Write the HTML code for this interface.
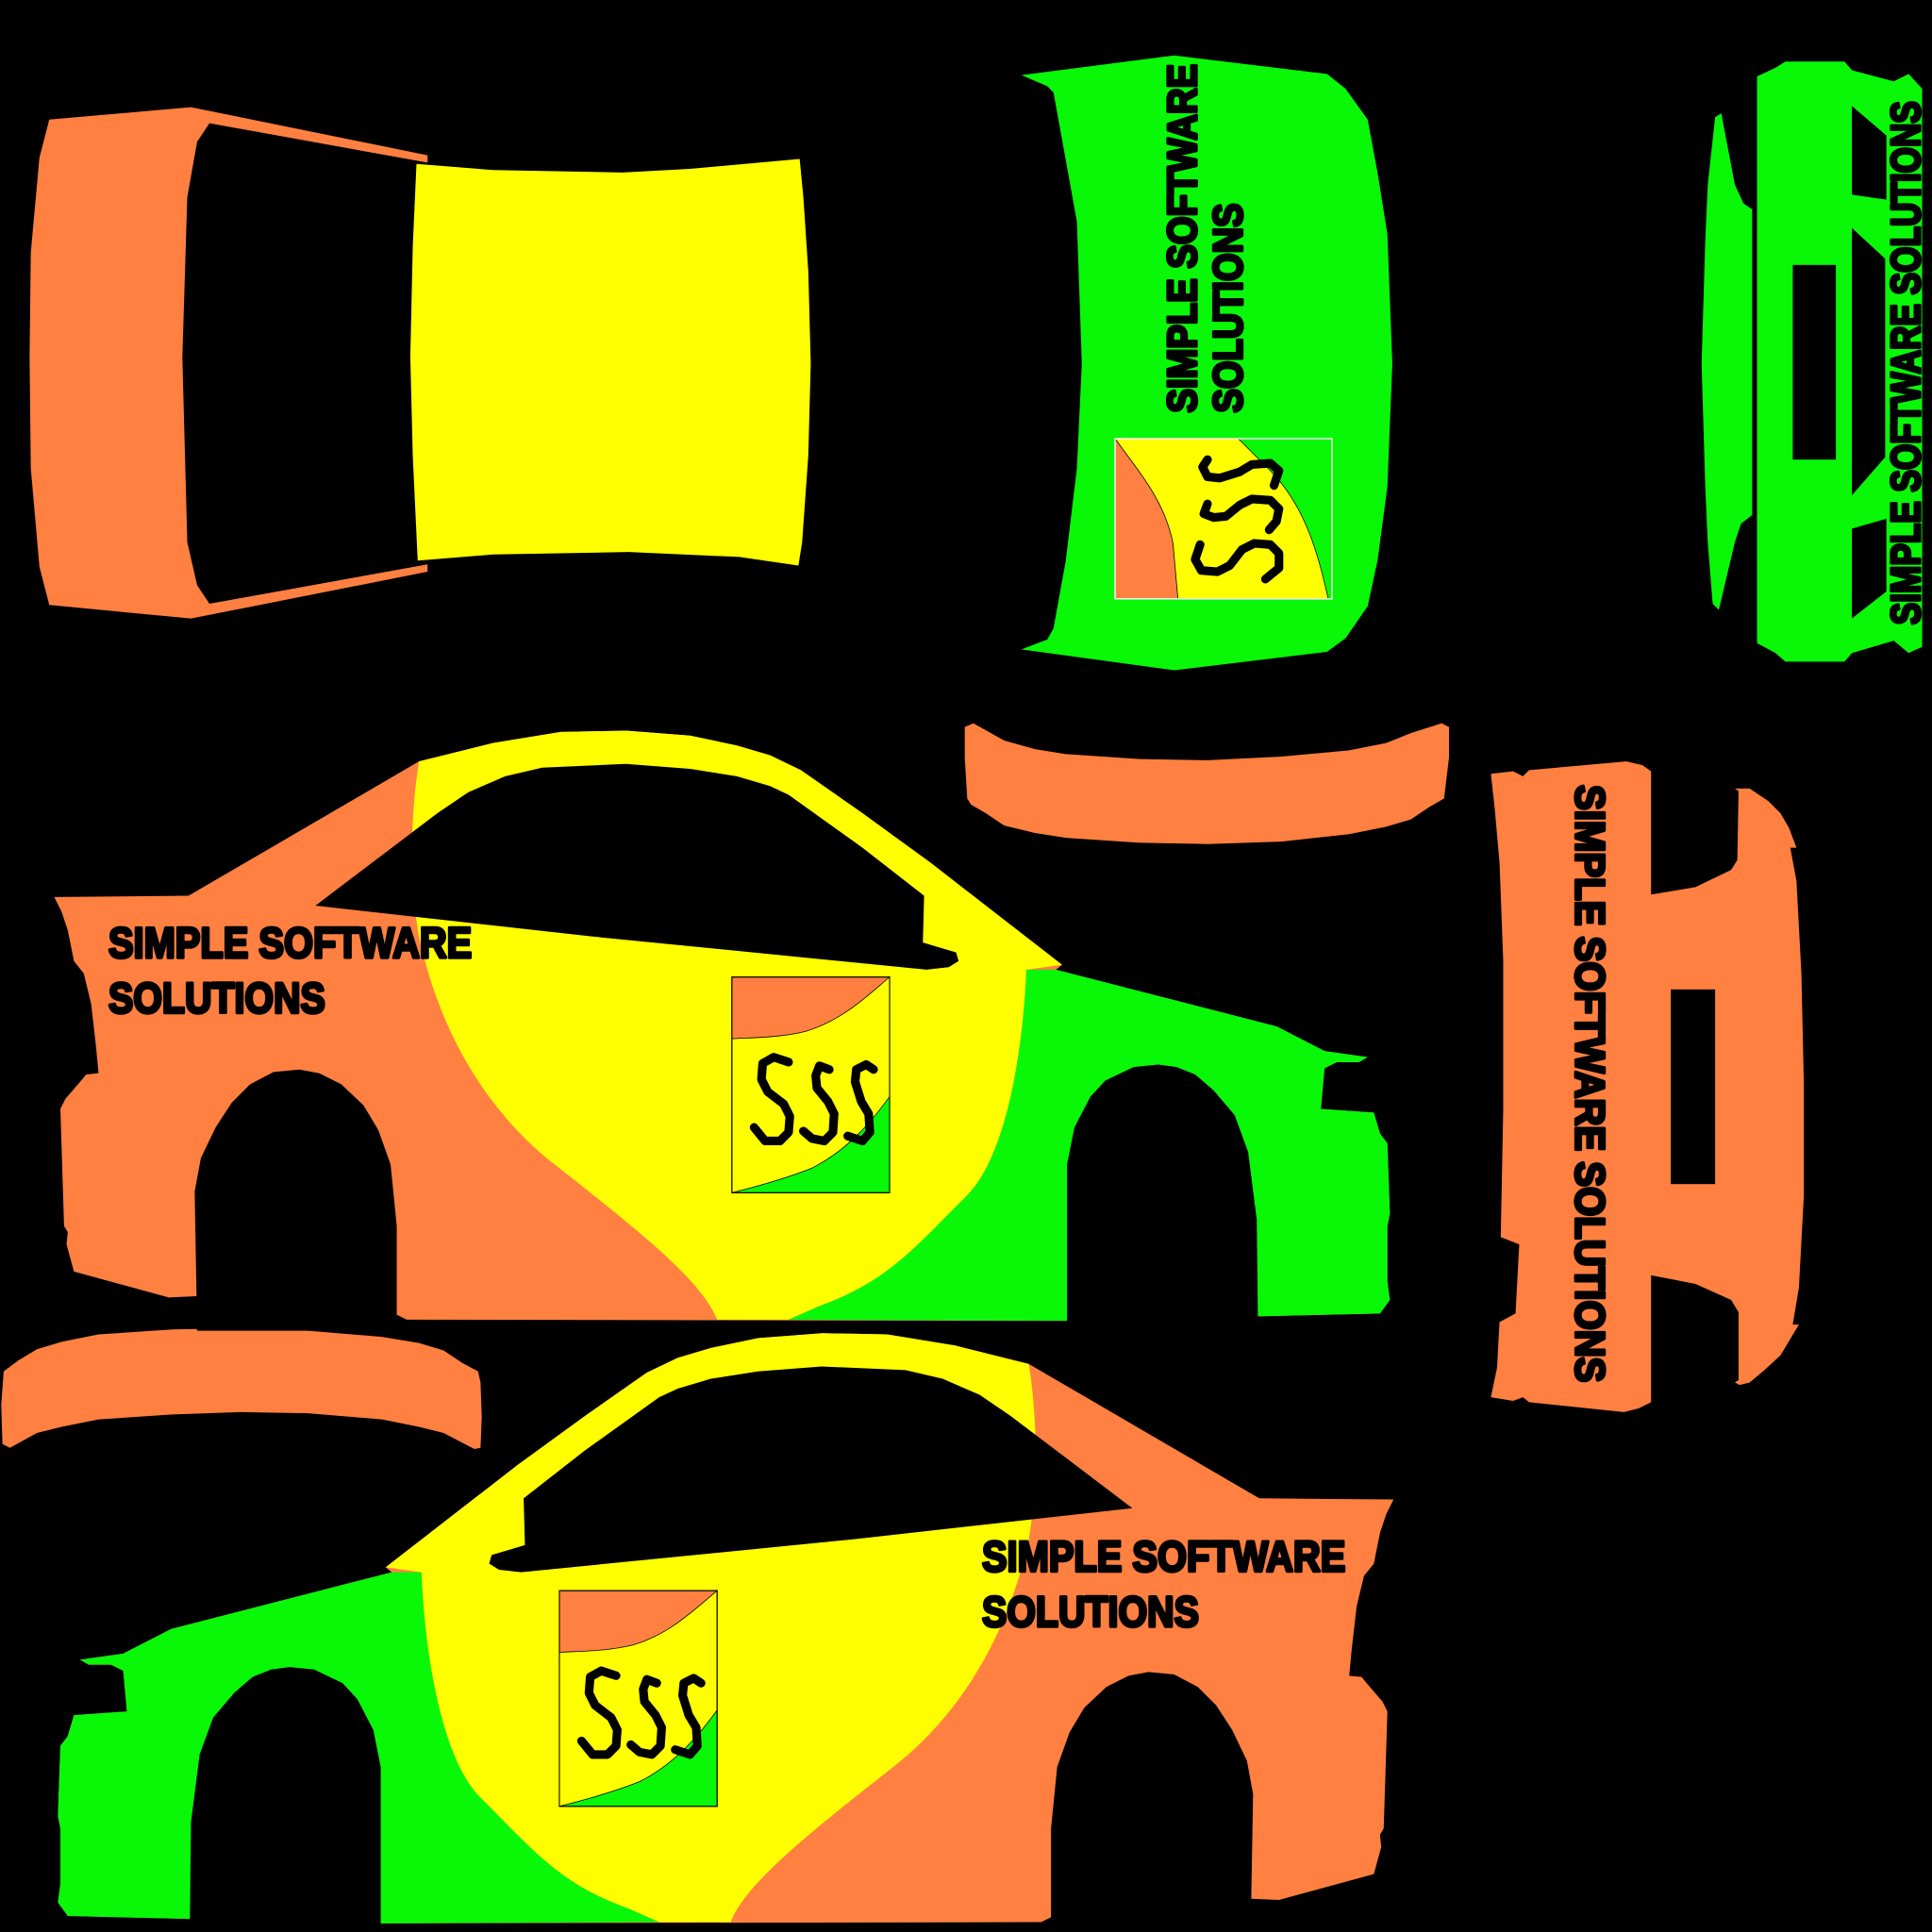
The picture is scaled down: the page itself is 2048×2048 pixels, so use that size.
<!DOCTYPE html>
<html><head><meta charset="utf-8"><style>
html,body{margin:0;padding:0;background:#000;}
svg{display:block;}
.t{font-family:"Liberation Sans",sans-serif;font-weight:bold;fill:#000;stroke:#000;stroke-width:2.6;stroke-linejoin:round;}
</style></head><body>
<svg width="2048" height="2048" viewBox="0 0 1568 1568" xmlns="http://www.w3.org/2000/svg">
<defs>
<g id="ss" fill="none" stroke="#000" stroke-width="7" stroke-linecap="round" stroke-linejoin="round">
<polyline points="46,69 34,65 25,70 24,83 29,93 42,103 47,113 46,126 39,133 27,133 18,122"/>
<polyline points="79,75 71,72 68,80 69,90 78,101 83,111 82,126 75,133 65,131 58,125"/>
<polyline points="115,75 109,71 101,75 100,85 105,101 111,111 112,126 106,133 94,129"/>
</g>
<g id="logo">
<rect x="0" y="0" width="128" height="175" fill="#FFFF00" stroke="#000" stroke-width="0.8"/>
<path d="M0,0 L128,0 C110,15 90,35 60,44 C40,49 20,49 0,50 Z" fill="#FF8040" stroke="#000" stroke-width="0.6"/>
<path d="M128,97 C115,115 95,140 65,155 C45,163 20,170 0,175 L128,175 Z" fill="#08F808" stroke="#000" stroke-width="0.6"/>
<rect x="0" y="0" width="128" height="175" fill="none" stroke="#000" stroke-width="0.8"/>
<use href="#ss"/>
</g>
<g id="side">
<polygon fill="#FF8040" points="44,728 153,727 340,618 400,603 455,594 508,593 560,597 598,605 625,613 650,625 700,660 755,700 862,783 857,787 1036,833 1075,853 1110,858 1103,862 1085,862 1075,867 1072,900 1115,903 1120,920 1126,928 1128,985 1126,995 1126,1040 1128,1055 1120,1066 866,1072 330,1071 322,1067 160,1052 137,1053 60,1032 54,1010 55,1000 52,995 49,900 53,892 65,878 70,872 80,871 78,850 74,815 68,790 60,780 55,755 50,740"/>
<path fill="#FFFF00" d="M340,618 L400,603 455,594 508,593 560,597 598,605 625,613 650,625 700,660 755,700 862,783 833,787 C830,860 815,940 785,970 C740,1015 720,1040 665,1060 L640,1071 582,1071 C570,1040 520,1000 450,945 C390,898 355,830 340,760 C333,720 332,670 340,618 Z"/>
<path fill="#08F808" d="M833,787 L857,787 1036,833 1075,853 1110,858 1103,862 1085,862 1075,867 1072,900 1115,903 1120,920 1126,928 1128,985 1126,995 1126,1040 1128,1055 1120,1066 866,1072 640,1071 665,1060 C720,1040 740,1015 785,970 C815,940 830,860 833,787 Z"/>
<polygon fill="#000" points="256,735 355,660 380,643 410,630 440,623 508,620 560,624 598,630 625,638 640,645 700,688 750,727 749,765 776,773 778,780 770,785 752,787 480,760"/>
<polygon fill="#000" points="160,1080 158,967 163,940 175,915 188,895 203,880 222,870 243,868 259,871 277,880 295,897 307,917 317,945 322,995 322,1080"/>
<polygon fill="#000" points="866,1080 866,945 872,915 885,890 897,877 920,866 940,864 955,866 970,872 985,885 1002,905 1013,935 1020,990 1021,1080"/>
</g>
</defs>
<rect width="1568" height="1568" fill="#000"/>
<!-- roof -->
<polygon fill="#FF8040" points="40,97 155,87 347,126 347,132 170,100 160,115 152,160 148,290 152,440 160,475 170,490 347,458 347,464 155,502 40,491 32,460 25,380 24,290 25,205 32,128"/>
<polygon fill="#FFFF00" points="338,133 400,138 505,140 560,137 649,129 652,160 656,220 658,295 656,370 651,440 648,459 600,452 510,448 400,450 339,455 335,370 333,290 335,200"/>
<!-- hood -->
<polygon fill="#08F808" points="829,61 953,45 1077,60 1092,72 1110,97 1118,140 1126,190 1130,295 1126,395 1118,455 1110,492 1092,518 1077,529 953,544 829,527 850,519 855,510 865,455 874,380 878,295 874,180 865,130 855,75 850,70"/>
<g transform="translate(905,356)">
<rect x="0" y="0" width="176" height="130" fill="#FFFF00" stroke="#fff" stroke-width="1"/>
<path d="M0,0 C20,28 40,50 47,85 L51,130 L0,130 Z" fill="#FF8040" stroke="#000" stroke-width="0.6"/>
<path d="M100,0 L176,0 L176,130 L173,130 C165,95 155,55 125,25 Z" fill="#08F808" stroke="#000" stroke-width="0.6"/>
<rect x="0" y="0" width="176" height="130" fill="none" stroke="#fff" stroke-width="1"/>
<use href="#ss" transform="translate(0,132) rotate(-90)"/>
</g>
<text class="t" font-size="33" textLength="283" lengthAdjust="spacingAndGlyphs" transform="translate(971,335) rotate(-90)">SIMPLE SOFTWARE</text>
<text class="t" font-size="33" textLength="170" lengthAdjust="spacingAndGlyphs" transform="translate(1008,335) rotate(-90)">SOLUTIONS</text>
<!-- back -->
<polygon fill="#08F808" points="1426,62 1441,55 1449,50 1497,50 1503,57 1537,66 1549,60 1560,72 1560,525 1549,530 1537,520 1503,530 1497,537 1449,537 1441,530 1426,522"/>
<polygon fill="#000" points="1503,86 1531,110 1531,162 1503,158"/>
<polygon fill="#000" points="1503,185 1530,210 1530,371 1503,402"/>
<polygon fill="#000" points="1503,429 1531,421 1531,480 1503,502"/>
<rect x="1455" y="215" width="35" height="158" fill="#000"/>
<polygon fill="#08F808" points="1392,95 1397,92 1408,150 1415,165 1422,170 1422,418 1413,425 1408,440 1395,495 1390,490 1386,440 1384,395 1381,295 1384,195 1386,150"/>
<text class="t" font-size="33" textLength="425" lengthAdjust="spacingAndGlyphs" transform="translate(1558,507) rotate(-90)">SIMPLE SOFTWARE SOLUTIONS</text>
<!-- spoilers -->
<polygon fill="#FF8040" points="783,590 790,587 815,601 840,608 865,612 925,616 980,617 1040,614 1095,609 1125,603 1145,595 1170,587 1176,590 1176,615 1172,648 1160,655 1145,665 1125,671 1095,677 1040,683 980,685 925,684 865,680 840,676 815,670 800,660 788,653 785,648 783,615"/>
<polygon fill="#FF8040" points="3,1113 15,1104 30,1095 50,1089 80,1083 140,1079 195,1078 250,1080 310,1085 340,1090 360,1096 375,1106 388,1113 390,1122 391,1150 390,1175 385,1176 360,1163 340,1158 310,1152 250,1147 195,1146 140,1148 80,1152 50,1158 30,1163 8,1175 2,1172 1,1140"/>
<!-- front bumper -->
<polygon fill="#FF8040" points="1210,628 1228,626 1236,630 1241,625 1320,618 1333,621 1340,626 1340,726 1376,720 1405,706 1410,698 1411,642 1408,640 1420,640 1435,650 1445,660 1452,672 1458,688 1453,688 1458,715 1462,790 1464,880 1464,970 1460,1045 1455,1075 1460,1075 1445,1100 1432,1112 1420,1122 1412,1124 1408,1122 1411,1120 1411,1065 1405,1055 1376,1042 1340,1035 1340,1138 1330,1143 1318,1146 1241,1138 1236,1134 1228,1137 1210,1134 1215,1110 1217,1073 1230,1066 1233,1010 1218,1004 1220,900 1220,780 1217,700 1213,655"/>
<rect x="1356" y="803" width="36" height="158" fill="#000"/>
<text class="t" font-size="33" textLength="485" lengthAdjust="spacingAndGlyphs" transform="translate(1279,637) rotate(90)">SIMPLE SOFTWARE SOLUTIONS</text>
<!-- side 1 -->
<use href="#side"/>
<use href="#logo" transform="translate(594,793)"/>
<text class="t" font-size="35" x="88" y="777" textLength="295" lengthAdjust="spacingAndGlyphs">SIMPLE SOFTWARE</text>
<text class="t" font-size="35" x="88" y="822" textLength="176" lengthAdjust="spacingAndGlyphs">SOLUTIONS</text>
<!-- side 2 -->
<use href="#side" transform="translate(1175,489) scale(-1,1)"/>
<use href="#logo" transform="translate(454,1291)"/>
<text class="t" font-size="35" x="797" y="1275" textLength="295" lengthAdjust="spacingAndGlyphs">SIMPLE SOFTWARE</text>
<text class="t" font-size="35" x="797" y="1320" textLength="176" lengthAdjust="spacingAndGlyphs">SOLUTIONS</text>
</svg>
</body></html>
